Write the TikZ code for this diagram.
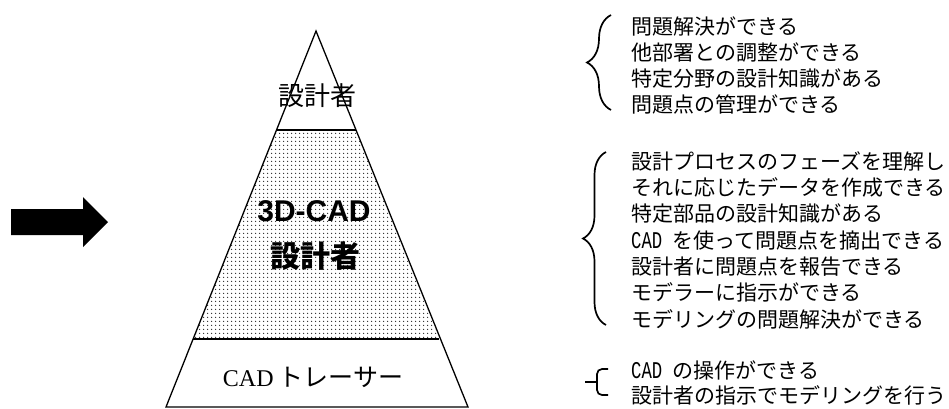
\documentclass[tikz,border=0pt]{standalone}
\usepackage{fontspec}
\usetikzlibrary{patterns.meta,decorations.pathreplacing}
\newfontfamily\jp{Noto Sans CJK JP}
\newfontfamily\lsans{Liberation Sans}
\newfontfamily\lserif{Liberation Serif}
\newfontfamily\lmono[FakeStretch=0.72]{Liberation Mono}
\newcommand{\cadm}{{\lmono\fontsize{24}{25}\selectfont CAD }}
\tikzset{
  outline/.style={draw=black, line width=1.3pt, line join=miter},
  listtext/.style={anchor=base west, inner sep=0pt, font=\jp\fontsize{21}{25}\selectfont},
  bracestyle/.style={draw=black, line width=1.7pt, decorate},
  dotfill/.style={pattern={Dots[distance=4pt, radius=0.85pt]}, pattern color=black!85},
}
\begin{document}
\begin{tikzpicture}[x=1pt,y=-1pt]
\useasboundingbox (0,0) rectangle (949,409);
% arrow
\fill[black] (11,209) -- (83,209) -- (83,197) -- (108,222) -- (83,247) -- (83,235) -- (11,235) -- cycle;
% pyramid
\coordinate (apex) at (316,31);
\coordinate (bl) at (166,407);
\coordinate (br) at (468,407);
\coordinate (t1l) at (276.5,130);
\coordinate (t1r) at (355.5,130);
\coordinate (t2l) at (193.1,339);
\coordinate (t2r) at (438.9,339);
\fill[dotfill] (t1l) -- (t1r) -- (t2r) -- (t2l) -- cycle;
\draw[outline] (apex) -- (br) -- (bl) -- cycle;
\draw[outline] (t1l) -- (t1r);
\draw[outline] (t2l) -- (t2r);
% pyramid labels
\node[inner sep=0pt, font=\jp\fontsize{26}{30}\selectfont] (top) at (317,96) {設計者};
\node[inner sep=0pt, font=\lsans\bfseries\fontsize{30}{34}\selectfont] (mid1) at (314,211) {3D-CAD};
\node[inner sep=0pt, font=\jp\bfseries\fontsize{30}{34}\selectfont] (mid2) at (315,256) {設計者};
\node[inner sep=0pt] (bot) at (313,377) {{\lserif\fontsize{24}{28}\selectfont CAD}\hspace{5pt}{\jp\fontsize{25}{28}\selectfont トレーサー}};
% brace 1
\draw[bracestyle, decoration={brace, amplitude=24pt}] (611,110) -- (611,15);
\node[listtext] (a1) at (631,35) {問題解決ができる};
\node[listtext] (a2) at (631,61) {他部署との調整ができる};
\node[listtext] (a3) at (631,87) {特定分野の設計知識がある};
\node[listtext] (a4) at (631,113) {問題点の管理ができる};
% brace 2
\draw[bracestyle, decoration={brace, amplitude=23pt}] (606,325) -- (606,152);
\node[listtext] (b1) at (631,169) {設計プロセスのフェーズを理解し};
\node[listtext] (b2) at (631,195.3) {それに応じたデータを作成できる};
\node[listtext] (b3) at (631,221.6) {特定部品の設計知識がある};
\node[listtext] (b4) at (631,248) {\cadm を使って問題点を摘出できる};
\node[listtext] (b5) at (631,274) {設計者に問題点を報告できる};
\node[listtext] (b6) at (631,300.5) {モデラーに指示ができる};
\node[listtext] (b7) at (631,327) {モデリングの問題解決ができる};
% brace 3
\draw[black, line width=1.7pt, rounded corners=5pt] (608,369) -- (597,369) -- (597,395) -- (608,395);
\draw[black, line width=1.7pt] (585,382) -- (597,382);
\node[listtext] (c1) at (631,378) {\cadm の操作ができる};
\node[listtext] (c2) at (631,403) {設計者の指示でモデリングを行う};
\end{tikzpicture}
\end{document}
